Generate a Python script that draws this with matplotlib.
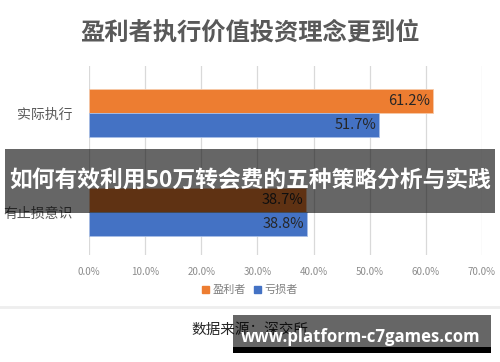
import matplotlib
matplotlib.use('Agg')
import numpy as np
import matplotlib.pyplot as plt
from matplotlib.patches import Rectangle, Patch

plt.rcParams['font.family'] = ['Noto Sans CJK SC', 'DejaVu Sans']

# ── data ──────────────────────────────────────────────────────────────
categories = ["实际执行", "有止损意识"]
series_names = ["盈利者", "亏损者"]
profit_vals = [61.2, 38.7]
loss_vals = [51.7, 38.8]
xticks = [0, 10, 20, 30, 40, 50, 60, 70]

title = "盈利者执行价值投资理念更到位"
banner = "如何有效利用50万转会费的五种策略分析与实践"
source = "数据来源：深交所"
watermark = "www.platform-c7games.com"

orange = "#ED7D31"
blue = "#4472C4"

# ── figure ────────────────────────────────────────────────────────────
fig = plt.figure(figsize=(5, 3.62), dpi=100)
fig.patch.set_facecolor("white")
ax = fig.add_axes([0.178, 0.2956, 0.786, 0.522])

y = np.arange(len(categories))
h = 0.2424
ax.barh(y - h / 2, profit_vals, height=h, color=orange, edgecolor="#f7c9a8", lw=0.6,
        label=series_names[0], zorder=2)
ax.barh(y + h / 2, loss_vals, height=h, color=blue, edgecolor="#a9bfe6", lw=0.6,
        label=series_names[1], zorder=2)

for yy, v in zip(y - h / 2, profit_vals):
    ax.text(v - 0.5, yy, f"{v:.1f}%", ha="right", va="center", fontsize=10.5,
            color="#262626", zorder=3)
for yy, v in zip(y + h / 2, loss_vals):
    ax.text(v - 0.5, yy, f"{v:.1f}%", ha="right", va="center", fontsize=10.5,
            color="#262626", zorder=3)

ax.set_xlim(0, 70)
ax.set_ylim(1.434, -0.475)
ax.set_xticks(xticks)
ax.set_xticklabels([f"{t:.1f}%" for t in xticks], fontsize=7, color="#8c8c8c")
ax.set_yticks(y)
ax.set_yticklabels(categories, fontsize=10, color="#595959")
ax.tick_params(length=0)
ax.tick_params(axis="x", pad=9)
ax.tick_params(axis="y", pad=12)
ax.grid(axis="x", color="#d9d9d9", lw=0.9, zorder=0)
for s in ax.spines.values():
    s.set_visible(False)

fig.text(0.5, 1 - 33 / 362, title, ha="center", va="center", fontsize=17.5,
         color="#595959", fontweight="bold")

handles = [Patch(color=orange), Patch(color=blue)]
fig.legend(handles, series_names, loc="center", bbox_to_anchor=(0.5, 1 - 290 / 362),
           ncol=2, frameon=False, fontsize=8, labelcolor="#7f7f7f",
           handlelength=0.6, handleheight=0.6, handletextpad=0.3, columnspacing=0.8)

# separator and source
fig.add_artist(plt.Line2D([0, 1], [1 - 307 / 362] * 2, color="#eeeeee", lw=2,
                          transform=fig.transFigure))
fig.text(0.5, 1 - 331 / 362, source, ha="center", va="center", fontsize=10.5,
         color="#262626")

# overlay banner
fig.add_artist(Rectangle((5 / 500, 1 - 213 / 362), 490 / 500, 64 / 362,
                         transform=fig.transFigure, color="black", alpha=0.6,
                         lw=0, zorder=10))
fig.text(0.5, 1 - 181 / 362, banner, ha="center", va="center", fontsize=16.4,
         color="white", fontweight="bold", zorder=11)

# watermark box
fig.add_artist(Rectangle((233 / 500, 1 - 353 / 362), 258 / 500, 6 / 362,
                         transform=fig.transFigure, color="black", lw=0, zorder=10))
fig.add_artist(Rectangle((233 / 500, 1 - 347 / 362), 258 / 500, 32 / 362,
                         transform=fig.transFigure, color="black", alpha=0.6,
                         lw=0, zorder=10))
fig.text(361 / 500, 1 - 337 / 362, watermark, ha="center", va="center", fontsize=12.1,
         color="white", fontweight="bold", family=["Open Sans", "DejaVu Sans"], zorder=11)

fig.savefig("out.png", dpi=100)
